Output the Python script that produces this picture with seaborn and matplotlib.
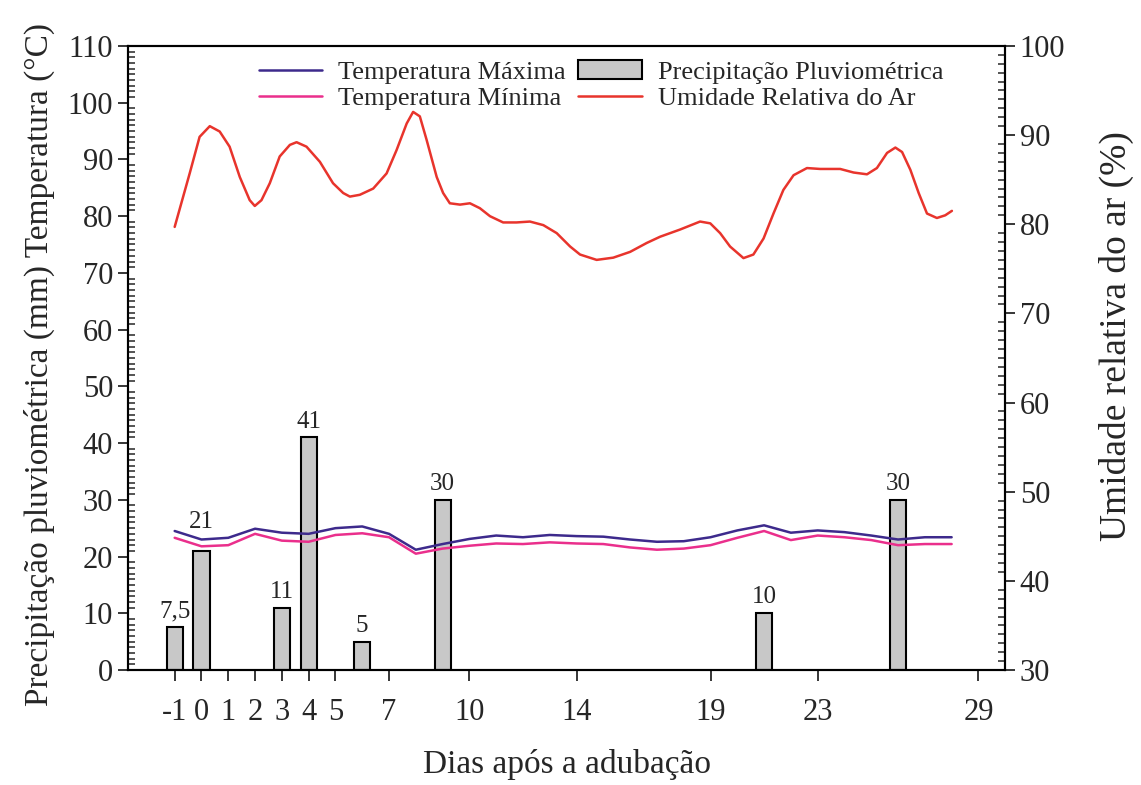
import seaborn as sns
import pandas as pd
import matplotlib
matplotlib.use("Agg")
from matplotlib import pyplot as plt
from matplotlib.lines import Line2D
from matplotlib.patches import Patch
from matplotlib.ticker import MultipleLocator

# Precipitation (mm) on the days it rained
rain_days = [-1, 0, 3, 4, 6, 9, 21, 26]
rain_mm = [7.5, 21, 11, 41, 5, 30, 10, 30]
rain_labels = ["7,5", "21", "11", "41", "5", "30", "10", "30"]

# Daily temperatures (°C)
temp_days = list(range(-1, 29))
temp_max = [24.5, 23.0, 23.3, 24.9, 24.2, 24.0, 25.0, 25.3, 24.0, 21.2,
            22.2, 23.1, 23.7, 23.4, 23.8, 23.6, 23.5, 23.0, 22.6, 22.7,
            23.4, 24.6, 25.5, 24.2, 24.6, 24.3, 23.7, 23.0, 23.4, 23.4]
temp_min = [23.3, 21.8, 22.0, 24.0, 22.8, 22.6, 23.8, 24.1, 23.4, 20.5,
            21.4, 21.9, 22.3, 22.2, 22.5, 22.3, 22.2, 21.6, 21.2, 21.4,
            22.0, 23.3, 24.5, 22.9, 23.7, 23.4, 22.9, 22.0, 22.2, 22.2]

# Relative humidity (%)
hum_days = [-1, -0.44, -0.07, 0.31, 0.68, 1.05, 1.43, 1.80, 1.99, 2.24,
            2.55, 2.92, 3.30, 3.55, 3.92, 4.42, 4.91, 5.29, 5.54, 5.91,
            6.41, 6.91, 7.28, 7.66, 7.90, 8.15, 8.40, 8.78, 9.02, 9.27,
            9.65, 10.02, 10.39, 10.77, 11.26, 11.76, 12.26, 12.76, 13.26, 13.76,
            14.13, 14.75, 15.37, 16.0, 16.62, 17.12, 17.86, 18.61, 18.99, 19.36,
            19.73, 20.23, 20.60, 20.98, 21.35, 21.72, 22.10, 22.60, 23.09, 23.84,
            24.34, 24.84, 25.21, 25.59, 25.90, 26.15, 26.46, 26.77, 27.08, 27.45,
            27.76, 28.01]
hum_pct = [79.7, 85.7, 89.8, 91.0, 90.4, 88.7, 85.3, 82.7, 82.05, 82.7,
           84.6, 87.6, 88.9, 89.2, 88.7, 87.0, 84.6, 83.5, 83.1, 83.3,
           84.0, 85.7, 88.3, 91.3, 92.6, 92.1, 89.5, 85.3, 83.5, 82.35,
           82.2, 82.35, 81.8, 80.9, 80.2, 80.2, 80.3, 79.9, 79.0, 77.5,
           76.6, 76.0, 76.25, 76.9, 77.9, 78.6, 79.4, 80.3, 80.1, 79.0,
           77.5, 76.2, 76.6, 78.4, 81.2, 83.85, 85.5, 86.3, 86.2, 86.2,
           85.8, 85.6, 86.3, 88.0, 88.6, 88.1, 86.1, 83.5, 81.2, 80.7,
           81.0, 81.5]

xticks = [-1, 0, 1, 2, 3, 4, 5, 7, 10, 14, 19, 23, 29]

c_max = "#3d2a8c"
c_min = "#ea2f8c"
c_hum = "#e8342c"
c_bar = "#c8c8c8"

sns.set_style("ticks")
plt.rcParams["font.family"] = ["Liberation Serif", "DejaVu Serif"]

fig = plt.figure(figsize=(11.41, 7.85), dpi=100)
ax = fig.add_axes([0.112, 0.1465, 0.769, 0.795])

rain = pd.DataFrame({"day": rain_days, "mm": rain_mm})
sns.barplot(data=rain, x="day", y="mm", native_scale=True, width=0.6,
            color=c_bar, edgecolor="black", linewidth=1.5, saturation=1,
            ax=ax, zorder=2)
bar_texts = ax.bar_label(ax.containers[0], labels=rain_labels, padding=3.5, fontsize=18)
# the "21" label sits higher, above the temperature lines
bar_texts[1].xyann = (0, 13)

sns.lineplot(x=temp_days, y=temp_max, color=c_max, linewidth=1.8, ax=ax, zorder=3)
sns.lineplot(x=temp_days, y=temp_min, color=c_min, linewidth=1.8, ax=ax, zorder=3)

ax.set_xlim(-2.75, 30)
ax.set_ylim(0, 110)
ax.set_xticks(xticks)
ax.set_xticklabels([str(t) for t in xticks])
ax.yaxis.set_major_locator(MultipleLocator(10))
ax.yaxis.set_minor_locator(MultipleLocator(1))
ax.tick_params(axis="x", direction="out", length=8, width=1.3, labelsize=22, pad=12)
ax.tick_params(axis="y", which="major", direction="out", length=7, width=1.3, labelsize=22)
ax.tick_params(axis="y", which="minor", direction="in", length=5, width=1.1)
ax.set_xlabel("Dias após a adubação", fontsize=24, labelpad=16)
ax.set_ylabel("Precipitação pluviométrica (mm) Temperatura (°C)", fontsize=24,
              labelpad=9, y=0.49)

ax2 = ax.twinx()
sns.lineplot(x=hum_days, y=hum_pct, color=c_hum, linewidth=1.8, ax=ax2)
ax2.set_ylim(30, 100)
ax2.yaxis.set_major_locator(MultipleLocator(10))
ax2.yaxis.set_minor_locator(MultipleLocator(1))
ax2.tick_params(axis="y", which="major", direction="out", length=7, width=1.3, labelsize=22)
ax2.tick_params(axis="y", which="minor", direction="in", length=5, width=1.1)
ax2.set_ylabel("Umidade relativa do ar (%)", fontsize=27, labelpad=24, y=0.535)

for a in (ax, ax2):
    for s in a.spines.values():
        s.set_linewidth(1.5)
        s.set_color("black")

handles = [
    Line2D([], [], color=c_max, linewidth=1.8),
    Line2D([], [], color=c_min, linewidth=1.8),
    Patch(facecolor=c_bar, edgecolor="black", linewidth=1.5),
    Line2D([], [], color=c_hum, linewidth=1.8),
]
labels = ["Temperatura Máxima", "Temperatura Mínima",
          "Precipitação Pluviométrica", "Umidade Relativa do Ar"]
ax2.legend(handles, labels, ncol=2, frameon=False, fontsize=19,
           loc="upper left", bbox_to_anchor=(0.215, 0.94), bbox_transform=fig.transFigure,
           handlelength=2.4, handletextpad=0.6, columnspacing=0.5,
           labelspacing=0.12, borderpad=0)

fig.savefig("out.png", dpi=100)
